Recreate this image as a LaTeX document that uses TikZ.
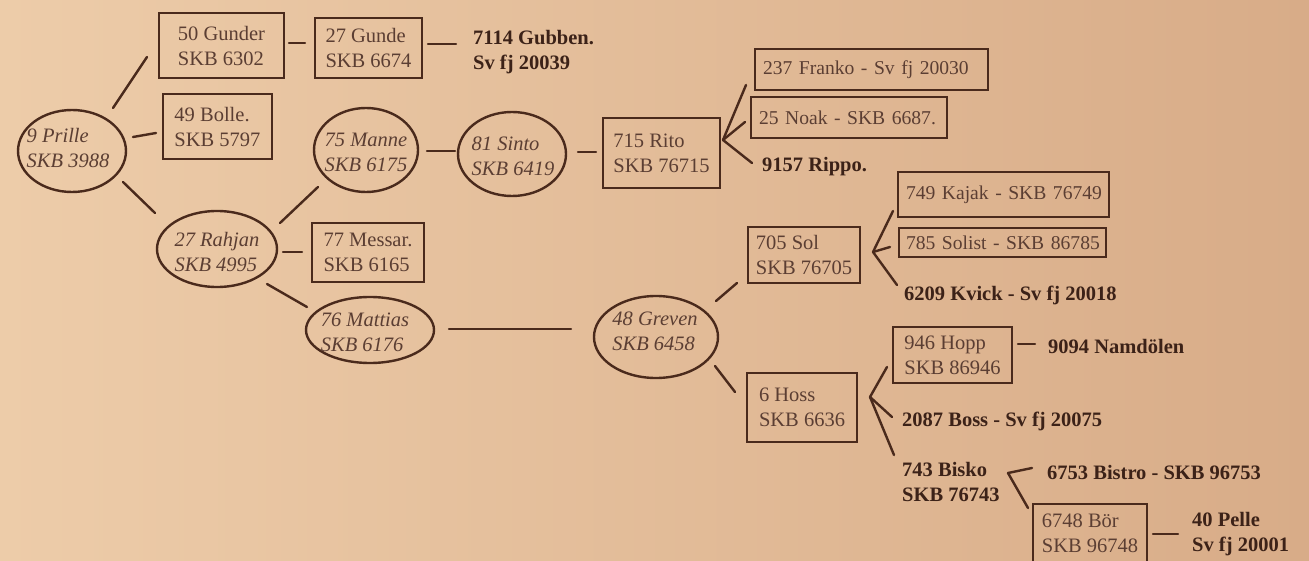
\documentclass[tikz,border=0pt]{standalone}
\usepackage{fontspec}
\setmainfont{Liberation Serif}
\usetikzlibrary{calc,shapes.geometric}
\definecolor{ink}{HTML}{4A2A1C}
\definecolor{txt}{HTML}{5B3E33}
\definecolor{btc}{HTML}{3C2218}
\definecolor{bgl}{HTML}{EDCCA9}
\definecolor{bgr}{HTML}{D8AC88}
\begin{document}
\begin{tikzpicture}[x=1pt,y=-1pt,
  every node/.style={font=\fontsize{20.5}{25}\selectfont},
  box/.style={draw=ink, line width=2.6pt, inner xsep=8pt, inner ysep=0pt, align=left, text=txt},
  linebox/.style={box, font=\fontsize{19.6}{24}\selectfont},
  ell/.style={draw=ink, line width=2.4pt, ellipse, inner sep=0pt},
  etxt/.style={font=\fontsize{20.5}{25}\selectfont\itshape, align=left, inner sep=0pt, text=txt},
  btxt/.style={font=\fontsize{20.5}{25}\selectfont\bfseries, align=left, inner sep=0pt, anchor=west, text=btc},
  link/.style={draw=ink, line width=2.4pt, line cap=round, line join=round}]
\useasboundingbox (0,0) rectangle (1309,561);
\shade[left color=bgl, right color=bgr] (0,0) rectangle (1309,561);

% ellipses
\node[ell, minimum width=108, minimum height=82] (prille) at (72,151) {};
\node[etxt] (prilleT) at (68,148) {9 Prille\\SKB 3988};
\node[ell, minimum width=104, minimum height=84] (manne) at (366,150) {};
\node[etxt] (manneT) at (366,152) {75 Manne\\SKB 6175};
\node[ell, minimum width=120, minimum height=76] (rahjan) at (217,249) {};
\node[etxt] (rahjanT) at (217,252) {27 Rahjan\\SKB 4995};
\node[ell, minimum width=128, minimum height=66] (mattias) at (370,330) {};
\node[etxt] (mattiasT) at (365,332) {76 Mattias\\SKB 6176};
\node[ell, minimum width=108, minimum height=84] (sinto) at (512,154) {};
\node[etxt] (sintoT) at (513,156) {81 Sinto\\SKB 6419};
\node[ell, minimum width=124, minimum height=82] (greven) at (656,337) {};
\node[etxt] (grevenT) at (655,331) {48 Greven\\SKB 6458};

% boxes
\node[box, minimum width=125, minimum height=65] (gunder) at (221.5,45.5) {50 Gunder\\SKB 6302};
\node[box, minimum width=107, minimum height=60] (gunde) at (368.5,48) {27 Gunde\\SKB 6674};
\node[box, minimum width=109, minimum height=65] (bolle) at (217.5,126.5) {49 Bolle.\\SKB 5797};
\node[box, minimum width=112, minimum height=59] (messar) at (368,252.5) {77 Messar.\\SKB 6165};
\node[box, minimum width=117, minimum height=70] (rito) at (661.5,153) {715 Rito\\SKB 76715};
\node[linebox, text width=217, minimum height=41] (franko) at (871.5,69.5) {\mbox{237 Franko - Sv fj 20030}};
\node[linebox, text width=180, minimum height=41] (noak) at (849,117.5) {\mbox{25 Noak - SKB 6687.}};
\node[linebox, text width=195, minimum height=45] (kajak) at (1003.5,194.5) {\mbox{749 Kajak - SKB 76749}};
\node[linebox, text width=193, inner xsep=7pt, minimum height=29] (solist) at (1002.5,242.5) {\mbox{785 Solist - SKB 86785}};
\node[box, minimum width=106, minimum height=56] (sol) at (804,255) {705 Sol\\SKB 76705};
\node[box, minimum width=110, minimum height=69] (hoss) at (802,407.5) {6 Hoss\\SKB 6636};
\node[box, minimum width=119, minimum height=56] (hopp) at (952.5,355) {946 Hopp\\SKB 86946};
\node[box, minimum width=114, minimum height=58] (bor) at (1090,533) {6748 Bör\\SKB 96748};

% bold free texts
\node[btxt] (gubben) at (473,52) {7114 Gubben.\\Sv fj 20039};
\node[btxt] (rippo) at (762,167) {9157 Rippo.};
\node[btxt] (kvick) at (904,295) {6209 Kvick - Sv fj 20018};
\node[btxt] (namdolen) at (1048,346) {9094 Namdölen};
\node[btxt] (boss) at (902,421) {2087 Boss - Sv fj 20075};
\node[btxt] (bisko) at (902,482) {743 Bisko\\SKB 76743};
\node[btxt] (bistro) at (1047,472) {6753 Bistro - SKB 96753};
\node[btxt] (pelle) at (1192,534.5) {40 Pelle\\Sv fj 20001};

% fork points
\coordinate (ritoFork) at ($(rito)+(61.5,-13)$);
\coordinate (solFork) at ($(sol)+(69,-3)$);
\coordinate (hossFork) at ($(hoss)+(68,-10.5)$);
\coordinate (biskoFork) at ($(bisko.west)+(106,-9)$);

% connectors
\draw[link] ($(prille)+(41,-43)$) -- ($(gunder)+(-74.5,11.5)$);
\draw[link] ($(prille)+(61,-14)$) -- ($(bolle)+(-61.5,6.5)$);
\draw[link] ($(prille)+(51,31)$) -- ($(rahjan)+(-62,-36)$);
\draw[link] ($(gunder)+(67.5,-2.5)$) -- ($(gunde)+(-63.5,-5)$);
\draw[link] ($(gunde)+(59.5,-4)$) -- ($(gubben.west)+(-17,-8)$);
\draw[link] ($(rahjan)+(63,-26)$) -- ($(manne)+(-48,37)$);
\draw[link] ($(rahjan)+(66,3)$) -- ($(messar)+(-66,-0.5)$);
\draw[link] ($(rahjan)+(50,35)$) -- ($(mattias)+(-63,-23)$);
\draw[link] ($(manne)+(61,1)$) -- ($(sinto)+(-57,-3)$);
\draw[link] ($(sinto)+(66,-2)$) -- ($(rito)+(-65.5,-1)$);
\draw[link] (ritoFork) -- ($(franko)+(-125.5,15.5)$);
\draw[link] (ritoFork) -- ($(noak)+(-104,4.5)$);
\draw[link] (ritoFork) -- ($(rippo.west)+(-10,-4)$);
\draw[link] ($(mattias)+(79,-1)$) -- ($(greven)+(-85,-8)$);
\draw[link] ($(greven)+(60,-36)$) -- ($(sol)+(-67,28)$);
\draw[link] ($(greven)+(59,29)$) -- ($(hoss)+(-67,-15.5)$);
\draw[link] (solFork) -- ($(kajak)+(-110.5,16.5)$);
\draw[link] (solFork) -- ($(solist)+(-112.5,4.5)$);
\draw[link] (solFork) -- ($(kvick.west)+(-7,-10)$);
\draw[link] (hossFork) -- ($(hopp)+(-65.5,12)$);
\draw[link] (hossFork) -- ($(boss.west)+(-10,-4)$);
\draw[link] (hossFork) -- ($(bisko.west)+(-8,-27)$);
\draw[link] ($(hopp)+(65.5,-11)$) -- ($(namdolen.west)+(-13,-2)$);
\draw[link] (biskoFork) -- ($(bistro.west)+(-15,-4)$);
\draw[link] (biskoFork) -- ($(bor)+(-62,-25)$);
\draw[link] ($(bor)+(63,1)$) -- ($(pelle.west)+(-14,-0.5)$);
\end{tikzpicture}
\end{document}
